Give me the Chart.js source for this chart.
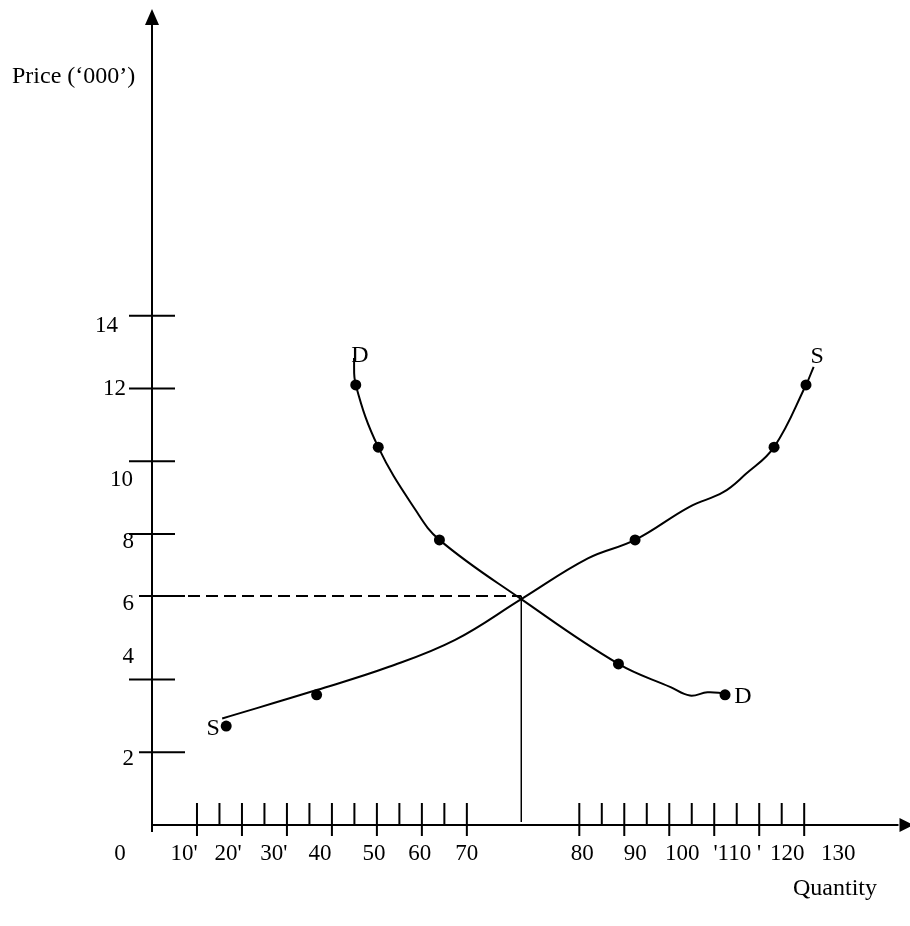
<!DOCTYPE html>
<html>
<head>
<meta charset="utf-8">
<title>Demand and supply</title>
<script src="https://cdn.jsdelivr.net/npm/chart.js@4.4.1/dist/chart.umd.min.js"></script>
<style>
  html, body { margin: 0; padding: 0; background: #fff; }
  #wrap { width: 910px; height: 926px; }
</style>
</head>
<body>
<div id="wrap"><canvas id="market" width="910" height="926"></canvas></div>
<script>
// Demand curve D (quantity, price)
const demandLineQ = [44.9, 45.3, 50.3, 58.6, 63.9, 82.1, 103.7, 115.3, 119.6, 123.5, 127.4];
const demandLineP = [12.84, 12.10, 10.39, 8.66, 7.84, 6.21, 4.43, 3.79, 3.56, 3.65, 3.62];
// Supply curve S
const supplyLineQ = [15.6, 36.6, 52.7, 67.4, 82.1, 96.9, 107.4, 119.5, 127.0, 132.0, 138.3, 145.4, 147.1];
const supplyLineP = [2.93, 3.71, 4.35, 5.09, 6.21, 7.33, 7.84, 8.75, 9.15, 9.65, 10.39, 12.10, 12.60];

// plotted dots
const demandDotQ = [45.3, 50.3, 63.9, 103.7, 127.4];
const demandDotP = [12.10, 10.39, 7.84, 4.43, 3.58];
const supplyDotQ = [16.5, 36.6, 107.4, 138.3, 145.4];
const supplyDotP = [2.72, 3.58, 7.84, 10.39, 12.10];

// equilibrium
const eqQ = 82.1;
const eqP = 6.3;

// axis ticks and labels (the quantity axis is broken between 70 and 80)
const xMajorTicks = [10, 20, 30, 40, 50, 60, 70, 95, 105, 115, 125, 135, 145];
const xMinorTicks = [15, 25, 35, 45, 55, 65, 100, 110, 120, 130, 140];
const xLabelAt = [0, 10, 20, 30, 40, 50, 60, 70, 95, 105, 115, 125, 135, 145];
const xLabels = ['0', "10'", "20'", "30'", '40', '50', '60', '70', '80', '90', '100', "'110 '", '120', '130'];
const yTicks = [14, 12, 10, 8, 6.3, 4.0, 2];
const yLabels = ['14', '12', '10', '8', '6', '4', '2'];

// curve end labels
const curveLabels = ['D', 'S', 'S', 'D'];
const curveLabelQ = [46.2, 13.6, 147.9, 131.4];
const curveLabelP = [12.73, 2.48, 12.71, 3.36];

function toPoints(qs, ps) {
    return qs.map((q, i) => ({ x: q, y: ps[i] }));
}

const FONT = '"Liberation Serif", "DejaVu Serif", serif';

// hand placement of tick labels (px)
const xLabelNudge = [-32, -13, -14, -13, -12, -3, -2, 0, 3, 11, 13, 23, 28, 34];
const yLabelDx = [-34, -26, -19, -18, -18, -18, -18];
const yLabelDy = [16, 6, 25, 14, 14, -17, 13];
const yTickFrom = [-23, -23, -23, -23, -13, -23, -13];
const yTickTo = [23, 23, 23, 23, 33, 23, 33];

const diagramPlugin = {
    id: 'diagram',
    afterDraw(chart) {
        const ctx = chart.ctx;
        const xs = chart.scales.x;
        const ys = chart.scales.y;
        const ox = xs.getPixelForValue(0);
        const oy = ys.getPixelForValue(0);
        const top = chart.chartArea.top;
        const right = chart.chartArea.right;

        ctx.save();
        ctx.strokeStyle = '#000';
        ctx.fillStyle = '#000';
        ctx.lineWidth = 2;

        // axes
        ctx.beginPath();
        ctx.moveTo(ox, top + 10);
        ctx.lineTo(ox, oy + 7);
        ctx.moveTo(ox, oy);
        ctx.lineTo(right - 6, oy);
        ctx.stroke();

        // arrow heads
        ctx.beginPath();
        ctx.moveTo(ox, top - 1);
        ctx.lineTo(ox - 7, top + 15);
        ctx.lineTo(ox + 7, top + 15);
        ctx.closePath();
        ctx.fill();
        ctx.beginPath();
        ctx.moveTo(right + 9, oy);
        ctx.lineTo(right - 5, oy - 7);
        ctx.lineTo(right - 5, oy + 7);
        ctx.closePath();
        ctx.fill();

        // quantity ticks
        ctx.beginPath();
        xMajorTicks.forEach((v) => {
            const px = xs.getPixelForValue(v);
            ctx.moveTo(px, oy - 22);
            ctx.lineTo(px, oy + 11);
        });
        xMinorTicks.forEach((v) => {
            const px = xs.getPixelForValue(v);
            ctx.moveTo(px, oy - 22);
            ctx.lineTo(px, oy);
        });
        // price ticks
        yTicks.forEach((v, i) => {
            const py = ys.getPixelForValue(v);
            ctx.moveTo(ox + yTickFrom[i], py);
            ctx.lineTo(ox + yTickTo[i], py);
        });
        ctx.stroke();

        // equilibrium guide lines
        const ex = xs.getPixelForValue(eqQ);
        const ey = ys.getPixelForValue(eqP);
        ctx.beginPath();
        ctx.setLineDash([12, 6]);
        ctx.moveTo(ox + 36, ey);
        ctx.lineTo(ex, ey);
        ctx.stroke();
        ctx.setLineDash([]);
        ctx.lineWidth = 1.5;
        ctx.beginPath();
        ctx.moveTo(ex, ey);
        ctx.lineTo(ex, oy - 3);
        ctx.stroke();

        // texts
        ctx.font = '23px ' + FONT;
        ctx.textBaseline = 'alphabetic';
        ctx.textAlign = 'center';
        xLabelAt.forEach((v, i) => {
            ctx.fillText(xLabels[i], xs.getPixelForValue(v) + xLabelNudge[i], oy + 35);
        });
        ctx.textAlign = 'right';
        yTicks.forEach((v, i) => {
            ctx.fillText(yLabels[i], ox + yLabelDx[i], ys.getPixelForValue(v) + yLabelDy[i]);
        });
        ctx.font = '24px ' + FONT;
        ctx.textAlign = 'center';
        curveLabels.forEach((t, i) => {
            ctx.fillText(t, xs.getPixelForValue(curveLabelQ[i]), ys.getPixelForValue(curveLabelP[i]));
        });
        ctx.textAlign = 'left';
        ctx.fillText('Price (\u2018000\u2019)', 12, 83);
        ctx.fillText('Quantity', 793, 895);
        ctx.restore();
    }
};

const ctxMarket = document.getElementById('market').getContext('2d');
const marketChart = new Chart(ctxMarket, {
    type: 'scatter',
    data: {
        datasets: [
            {
                label: 'D',
                data: toPoints(demandLineQ, demandLineP),
                showLine: true,
                borderColor: '#000',
                borderWidth: 2,
                pointRadius: 0,
                tension: 0.4,
            },
            {
                label: 'S',
                data: toPoints(supplyLineQ, supplyLineP),
                showLine: true,
                borderColor: '#000',
                borderWidth: 2,
                pointRadius: 0,
                tension: 0.4,
            },
            {
                label: 'D points',
                data: toPoints(demandDotQ, demandDotP),
                pointRadius: 5.5,
                pointBackgroundColor: '#000',
                pointBorderWidth: 0,
            },
            {
                label: 'S points',
                data: toPoints(supplyDotQ, supplyDotP),
                pointRadius: 5.5,
                pointBackgroundColor: '#000',
                pointBorderWidth: 0,
            },
        ],
    },
    options: {
        responsive: false,
        animation: false,
        devicePixelRatio: 1,
        layout: { padding: { left: 152, right: 2, top: 10, bottom: 101 } },
        scales: {
            x: { type: 'linear', min: 0, max: 167.3, display: false },
            y: { type: 'linear', min: 0, max: 22.41, display: false },
        },
        plugins: {
            legend: { display: false },
            tooltip: { enabled: false },
        },
        events: [],
    },
    plugins: [diagramPlugin],
});
</script>
</body>
</html>
